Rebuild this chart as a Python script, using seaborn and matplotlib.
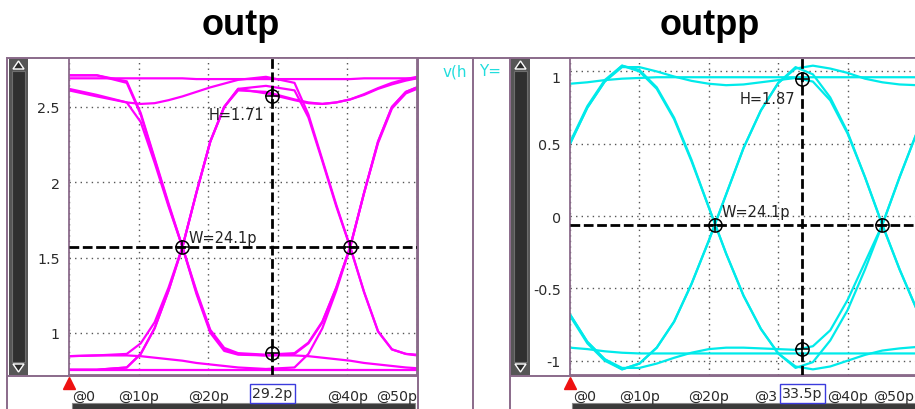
import pandas as pd
import matplotlib
matplotlib.use("Agg")
import matplotlib.pyplot as plt
import matplotlib.transforms as mtrans
from matplotlib.patches import Rectangle, Polygon
from matplotlib.ticker import FixedLocator, MultipleLocator, NullFormatter
import seaborn as sns

# ---- outp eye (time in ps, volts) ----
t_outp = [0, 4, 8.3, 10.3, 12.3, 14.3, 16.3, 18.3, 20.3, 22.3, 24.3, 28.3,
          32.4, 34.4, 36.4, 38.4, 40.4, 42.4, 44.4, 46.4, 48.4, 50]
outp_traces = {
    "p1": [2.69, 2.69, 2.69, 2.69, 2.69, 2.69, 2.69, 2.685, 2.685, 2.685, 2.685, 2.685,
           2.685, 2.685, 2.685, 2.685, 2.685, 2.69, 2.69, 2.69, 2.69, 2.69],
    "p2": [2.71, 2.71, 2.66, 2.45, 2.15, 1.85, 1.57, 1.27, 1.01, 0.89, 0.86, 0.85,
           0.86, 0.93, 1.07, 1.30, 1.57, 1.93, 2.27, 2.50, 2.60, 2.63],
    "p3": [2.71, 2.71, 2.67, 2.46, 2.16, 1.86, 1.57, 1.26, 1.00, 0.88, 0.855, 0.85,
           0.85, 0.845, 0.835, 0.825, 0.815, 0.80, 0.79, 0.78, 0.77, 0.765],
    "p4": [2.62, 2.58, 2.53, 2.40, 2.13, 1.84, 1.57, 1.28, 1.02, 0.90, 0.865, 0.855,
           0.865, 0.935, 1.075, 1.30, 1.57, 1.93, 2.26, 2.49, 2.59, 2.62],
    "p5": [2.61, 2.57, 2.53, 2.52, 2.525, 2.545, 2.57, 2.60, 2.63, 2.655, 2.68, 2.70,
           2.66, 2.45, 2.15, 1.85, 1.57, 1.27, 1.01, 0.89, 0.86, 0.855],
    "p6": [0.755, 0.755, 0.77, 0.86, 1.03, 1.28, 1.57, 1.93, 2.27, 2.50, 2.62, 2.59,
           2.545, 2.525, 2.52, 2.53, 2.55, 2.58, 2.62, 2.65, 2.675, 2.69],
    "p7": [0.755, 0.755, 0.77, 0.86, 1.03, 1.28, 1.57, 1.93, 2.27, 2.50, 2.62, 2.64,
           2.61, 2.43, 2.14, 1.84, 1.57, 1.27, 1.01, 0.89, 0.86, 0.85],
    "p8": [0.755, 0.755, 0.755, 0.755, 0.755, 0.755, 0.755, 0.755, 0.755, 0.755, 0.755, 0.755,
           0.755, 0.755, 0.755, 0.755, 0.755, 0.755, 0.755, 0.755, 0.755, 0.755],
    "p9": [0.845, 0.85, 0.86, 0.93, 1.07, 1.30, 1.57, 1.93, 2.27, 2.50, 2.61, 2.60,
           2.55, 2.53, 2.52, 2.53, 2.55, 2.585, 2.625, 2.66, 2.685, 2.70],
    "p10": [0.845, 0.85, 0.85, 0.845, 0.835, 0.825, 0.815, 0.80, 0.79, 0.78, 0.77, 0.76,
            0.77, 0.86, 1.03, 1.28, 1.57, 1.93, 2.27, 2.50, 2.60, 2.63],
}

# ---- outpp eye ----
t_outpp = [0, 2.5, 5, 7.5, 10, 12.5, 15, 17.5, 20, 22.5, 25, 27.5, 30, 32.5,
           35, 37.5, 40, 42.5, 45, 47.5, 50]
outpp_traces = {
    "q3": [0.50, 0.75, 0.93, 1.04, 1.00, 0.88, 0.67, 0.38, 0.06, -0.26, -0.55, -0.78, -0.95, -1.05,
           -1.01, -0.86, -0.65, -0.37, -0.06, 0.27, 0.58],
    "q4": [0.51, 0.76, 0.94, 1.04, 1.01, 0.89, 0.68, 0.39, 0.06, -0.26, -0.55, -0.78, -0.95, -1.04,
           -1.06, -1.04, -1.00, -0.96, -0.93, -0.915, -0.905],
    "q5": [-0.68, -0.87, -0.99, -1.06, -1.02, -0.91, -0.73, -0.47, -0.17, 0.15, 0.47, 0.73, 0.92, 1.03,
           0.98, 0.82, 0.58, 0.27, -0.06, -0.37, -0.65],
    "q6": [-0.69, -0.88, -1.00, -1.06, -1.02, -0.91, -0.73, -0.47, -0.17, 0.15, 0.47, 0.73, 0.92, 1.02,
           1.04, 1.02, 0.99, 0.95, 0.925, 0.91, 0.905],
    "q7": [0.50, 0.75, 0.93, 1.03, 1.03, 1.00, 0.965, 0.935, 0.915, 0.905, 0.91, 0.925, 0.94, 0.955,
           0.93, 0.80, 0.57, 0.27, -0.06, -0.37, -0.65],
    "q8": [-0.68, -0.87, -0.99, -1.05, -1.05, -1.02, -0.98, -0.945, -0.92, -0.91, -0.91, -0.915, -0.92,
           -0.925, -0.90, -0.79, -0.58, -0.32, -0.06, 0.27, 0.58],
    "q9": [0.915, 0.925, 0.94, 0.95, 0.955, 0.96, 0.96, 0.96, 0.96, 0.96, 0.96, 0.96, 0.96, 0.96,
           0.96, 0.96, 0.96, 0.96, 0.96, 0.96, 0.96],
    "q10": [-0.91, -0.92, -0.935, -0.945, -0.95, -0.95, -0.95, -0.95, -0.95, -0.95, -0.95, -0.95, -0.95,
            -0.95, -0.95, -0.95, -0.95, -0.95, -0.95, -0.95, -0.95],
}

# cursor / marker values
outp_cursor_x, outp_cursor_y = 29.2, 1.57
outp_cross_x = [16.3, 40.4]
outp_h_marks = [2.575, 0.863]
outpp_cursor_x, outpp_cursor_y = 33.5, -0.06
outpp_cross_x = [20.9, 45.0]
outpp_h_marks = [0.95, -0.92]

x_ticks = [0, 10, 20, 30, 40, 50]
x_labels = ["@0", "@10p", "@20p", "@30p", "@40p", "@50p"]
outp_yticks = [1, 1.5, 2, 2.5]
outp_ylabels = ["1", "1.5", "2", "2.5"]
outpp_yticks = [-1, -0.5, 0, 0.5, 1]
outpp_ylabels = ["-1", "-0.5", "0", "0.5", "1"]

PURPLE = "#8a6a8a"
TXT = "#2b2b2b"
W_PX, H_PX = 915, 410

sns.set_style("white")
plt.rcParams["font.family"] = ["DejaVu Sans"]

fig = plt.figure(figsize=(9.15, 4.10), dpi=100)
fig.patch.set_facecolor("white")

# background axes in pixel coordinates for the window frame
bg = fig.add_axes([0, 0, 1, 1])
bg.set_xlim(0, W_PX)
bg.set_ylim(H_PX, 0)
bg.axis("off")
bg.set_zorder(0)


def pline(xs, ys, lw=1.4):
    bg.plot(xs, ys, color=PURPLE, lw=lw, solid_capstyle="butt")


def vscroll(x0, y0, y1):
    bg.add_patch(Rectangle((x0, y0), 19, y1 - y0, fc="#565656", ec="none"))
    bg.add_patch(Rectangle((x0 + 3, y0 + 13), 13, y1 - y0 - 26, fc="#303030", ec="#6e6e6e", lw=0.8))
    bg.add_patch(Polygon([(x0 + 4, y0 + 11), (x0 + 15, y0 + 11), (x0 + 9.5, y0 + 3)], fc="#2c2c2c"))
    bg.add_patch(Polygon([(x0 + 4, y1 - 11), (x0 + 15, y1 - 11), (x0 + 9.5, y1 - 3)], fc="#2c2c2c"))


pline([7, 915], [58.5, 58.5])
for xv in [7, 417.5, 472.5, 509.5]:
    pline([xv, xv], [58, 410])
pline([7, 417.5], [377, 377])
pline([509.5, 915], [377, 377])
vscroll(9, 59, 376)
vscroll(511, 59, 376)
bg.add_patch(Rectangle((72, 404), 343, 8, fc="#3a3a3a", ec="#8a8a8a", lw=0.8))
bg.add_patch(Rectangle((572, 404), 345, 8, fc="#3a3a3a", ec="#8a8a8a", lw=0.8))
for xv in [69, 570]:
    bg.plot(xv, 383.5, marker="^", color="#ee1111", ms=8, clip_on=False)

# legend fragments of the waveform window
bg.text(443, 72, "v(h", color="#22dddd", fontsize=11, va="center")
bg.text(479, 72, "Y=", color="#22dddd", fontsize=11, va="center")

fig.text(241 / W_PX, 1 - 35 / H_PX, "outp", ha="center", va="baseline", color="black",
         fontsize=26, fontweight="bold", family="Liberation Sans")
fig.text(710 / W_PX, 1 - 35 / H_PX, "outpp", ha="center", va="baseline", color="black",
         fontsize=26, fontweight="bold", family="Liberation Sans")


def draw_panel(rect, t, traces, color, ylim, yticks, ylabels, cur_x, cur_y,
               cross_x, h_marks, h_text, h_pos, w_pos, x_right, hidden):
    ax = fig.add_axes(rect)
    ax.set_zorder(2)
    rows = []
    for name, vals in traces.items():
        for tv, vv in zip(t, vals):
            rows.append({"t": tv, "v": vv, "trace": name})
    df = pd.DataFrame(rows)
    sns.lineplot(data=df, x="t", y="v", units="trace", estimator=None, color=color,
                 lw=1.6, ax=ax, legend=False, sort=False)
    ax.set_xlim(0, 50)
    ax.set_ylim(*ylim)
    ax.set_xlabel("")
    ax.set_ylabel("")

    ax.xaxis.set_major_locator(FixedLocator(x_ticks))
    ax.xaxis.set_minor_locator(MultipleLocator(2))
    ax.xaxis.set_major_formatter(NullFormatter())
    ax.yaxis.set_major_locator(FixedLocator(yticks))
    ax.yaxis.set_minor_locator(MultipleLocator(0.1))
    ax.set_yticklabels(ylabels)
    ax.tick_params(axis="x", which="both", direction="out", length=5, width=1, color=PURPLE)
    ax.tick_params(axis="y", which="major", direction="out", length=4.5, width=1, color=PURPLE,
                   pad=2, labelsize=10.3, labelcolor=TXT)
    ax.tick_params(axis="y", which="minor", direction="out", length=3, width=1, color=PURPLE)
    for sp in ax.spines.values():
        sp.set_color(PURPLE)
        sp.set_linewidth(1.3)
    ax.set_axisbelow(True)
    ax.grid(True, which="major", ls=(0, (1, 3)), color="#555555", lw=1.0)

    # time labels; the one under the cursor box is hidden by it
    trans = mtrans.blended_transform_factory(ax.transData, ax.transAxes)
    for xv, lab in zip(x_ticks, x_labels):
        if lab == hidden:
            continue
        ha = "center"
        xx = xv
        if xv == 0:
            ha, xx = "left", 0.4
        elif xv == 50:
            ha, xx = "right", x_right
        ax.text(xx, -0.066, lab, transform=trans, ha=ha, va="center", fontsize=10.2,
                color=TXT, clip_on=False)
    box = ax.text(cur_x, -0.057, f"{cur_x}p", transform=trans, ha="center", va="center",
                  fontsize=10.2, color=TXT, zorder=10, clip_on=False,
                  bbox=dict(boxstyle="square,pad=0.18", fc="white", ec="#3b3bdd", lw=1.0))
    if cur_x > 31:
        ax.text(cur_x - 3.7, -0.066, "@3", transform=trans, ha="right", va="center",
                fontsize=10.2, color=TXT, clip_on=False)

    ax.axvline(cur_x, color="black", lw=2.0, dashes=(3.5, 1.3), zorder=3)
    ax.axhline(cur_y, color="black", lw=2.0, dashes=(3.5, 1.3), zorder=3)
    mx = cross_x + [cur_x, cur_x]
    my = [cur_y, cur_y] + h_marks
    ax.plot(mx, my, "o", mfc="none", mec="black", ms=9.5, mew=1.1, zorder=4)
    ax.plot(mx, my, "+", color="black", ms=9.5, mew=1.1, zorder=4)

    ax.text(h_pos[0], h_pos[1], h_text, ha="right", va="center", fontsize=10.5, color="#222222", zorder=5)
    ax.text(w_pos[0], w_pos[1], "W=24.1p", ha="left", va="center", fontsize=10.5, color="#222222", zorder=5)
    for lab in ax.get_yticklabels():
        if lab.get_text() == "1" and ylim[1] < 1.2:
            lab.set_va("top")
    return ax


bottom = 1 - 376 / H_PX
height = 317 / H_PX
draw_panel([69 / W_PX, bottom, 348 / W_PX, height], t_outp, outp_traces, "#ff00ff",
           (0.72, 2.825), outp_yticks, outp_ylabels, outp_cursor_x, outp_cursor_y,
           outp_cross_x, outp_h_marks, "H=1.71", (28.0, 2.45), (17.1, 1.635), 50, "@30p")
draw_panel([570 / W_PX, bottom, 347 / W_PX, height], t_outpp, outpp_traces, "#00eaea",
           (-1.099, 1.093), outpp_yticks, outpp_ylabels, outpp_cursor_x, outpp_cursor_y,
           outpp_cross_x, outpp_h_marks, "H=1.87", (32.4, 0.815), (21.9, 0.033), 49.6, "@30p")

fig.savefig("out.png", dpi=100)
